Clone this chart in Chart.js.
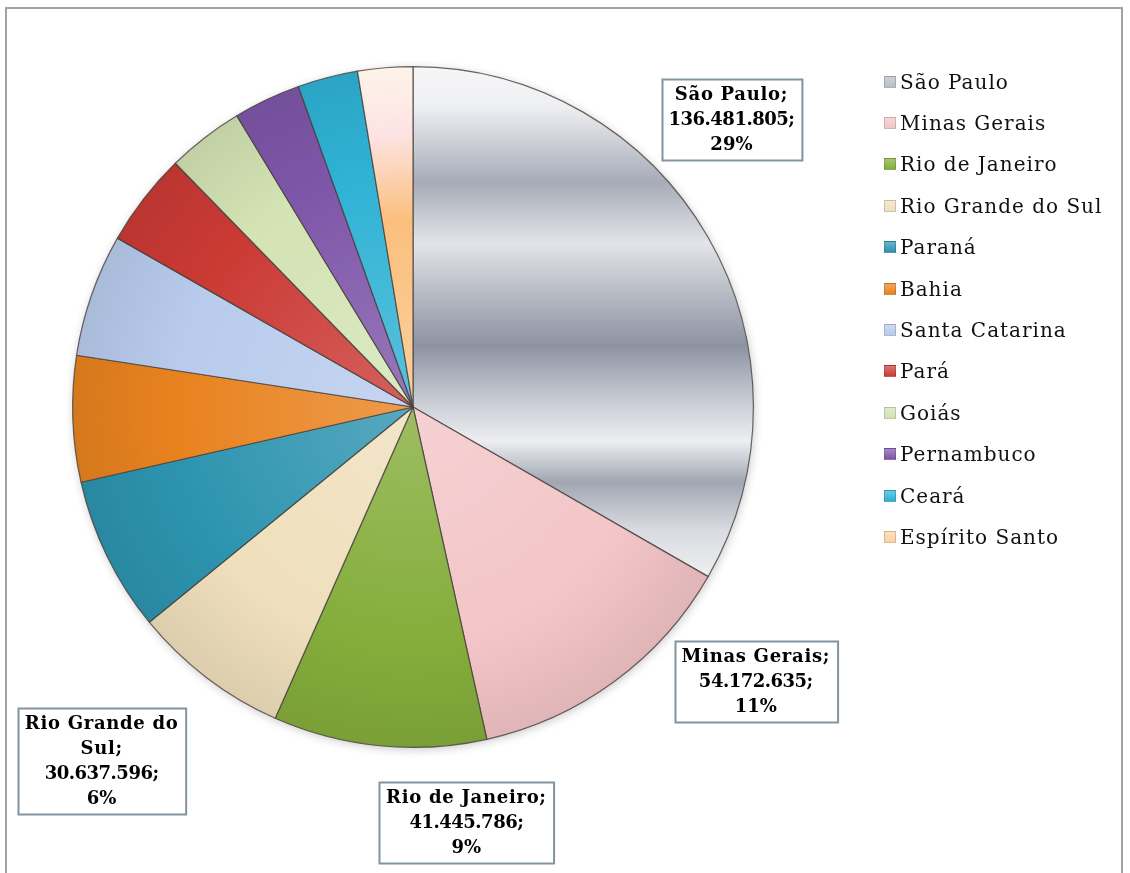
<!DOCTYPE html>
<html lang="pt-BR">
<head>
<meta charset="utf-8">
<title>Estados</title>
<script src="https://cdn.jsdelivr.net/npm/chart.js@4.4.1/dist/chart.umd.min.js"></script>
<style>
  html, body { margin: 0; padding: 0; background: #fff; }
  body { width: 1130px; height: 873px; position: relative; overflow: hidden; }
  .frame {
    position: absolute; left: 5px; top: 7px; width: 1118px; height: 920px;
    border: 2px solid #a3a3a3; box-sizing: border-box;
  }
  .chart-wrap { position: absolute; left: 0; top: 0; width: 1130px; height: 873px; }
  #legend {
    position: absolute; left: 884px; top: 61px; margin: 0; padding: 0; list-style: none;
    font-family: 'DejaVu Serif', serif; font-size: 20px; letter-spacing: 1px; color: #111;
  }
  #legend li { display: flex; align-items: center; height: 41.4px; white-space: nowrap; }
  #legend .swatch { width: 12px; height: 12px; margin-right: 4px; flex: none; box-sizing: border-box; border: 1px solid rgba(0,0,0,0.15); }
</style>
</head>
<body>
<div class="frame"></div>
<div class="chart-wrap"><canvas id="pieChart"></canvas></div>
<ul id="legend"></ul>
<script>
// data
const states = [
  'São Paulo', 'Minas Gerais', 'Rio de Janeiro', 'Rio Grande do Sul', 'Paraná', 'Bahia',
  'Santa Catarina', 'Pará', 'Goiás', 'Pernambuco', 'Ceará', 'Espírito Santo',
];
const values = [
  136481805, 54172635, 41445786, 30637596, 30100000, 24500000,
  23900000, 18200000, 14900000, 13100000, 11700000, 10700000,
];
// shares printed on the labelled slices
const shownShares = ['29%', '11%', '9%', '6%'];

const baseColors = [
  '#b9bdc7', '#f3c5c8', '#84ad3b', '#efdfbc', '#2d94af', '#e8821f',
  '#b8cbec', '#cb3a35', '#d3e3b3', '#7e56a9', '#2fb2d5', '#fbd2a4',
];

// banded silver look of the first slice (stop, colour)
const silverBands = [
  [0, '#f6f6f8'], [0.06, '#eeeff2'], [0.17, '#a6abb7'], [0.26, '#e2e4e8'],
  [0.34, '#b3b7c1'], [0.41, '#8d93a2'], [0.49, '#c8cbd3'], [0.55, '#eceef1'],
  [0.61, '#a1a6b2'], [0.68, '#d8dbe0'], [0.75, '#eeeff2'], [1, '#d0d3d9'],
];

// where each boxed label sits: angle shift from slice middle (deg), distance in radii, wrap width
const labelPlacement = [
  { shift: -12, dist: 1.26, wrap: 220 },
  { shift: -15, dist: 1.29, wrap: 220 },
  { shift: -13, dist: 1.23, wrap: 220 },
  { shift: 4, dist: 1.385, wrap: 170 },
];

function formatNumber(n) {
  return String(n).replace(/\B(?=(\d{3})+(?!\d))/g, '.');
}

function mix(hex, target, amount) {
  const n = parseInt(hex.slice(1), 16);
  const ch = [(n >> 16) & 255, (n >> 8) & 255, n & 255];
  const out = ch.map((c) => Math.round(c + (target - c) * amount));
  return `rgb(${out[0]}, ${out[1]}, ${out[2]})`;
}

function sliceFill(context) {
  const chart = context.chart;
  const area = chart.chartArea;
  const i = context.dataIndex;
  const base = baseColors[i];
  if (!area) return base;

  const g = chart.ctx;
  const cx = (area.left + area.right) / 2;
  const cy = (area.top + area.bottom) / 2;
  const r = Math.min(area.width, area.height) / 2;

  if (i === 0) {
    const lin = g.createLinearGradient(0, cy - r, 0, cy + r);
    silverBands.forEach(([stop, color]) => lin.addColorStop(stop, color));
    return lin;
  }

  const rad = g.createRadialGradient(cx, cy, 0, cx, cy, r);
  if (i === baseColors.length - 1) {
    rad.addColorStop(0, '#fbd0a0');
    rad.addColorStop(0.55, '#fbbf7c');
    rad.addColorStop(0.8, '#fde3e3');
    rad.addColorStop(1, '#fdf3ea');
    return rad;
  }
  rad.addColorStop(0, mix(base, 255, 0.2));
  rad.addColorStop(0.7, base);
  rad.addColorStop(1, mix(base, 0, 0.08));
  return rad;
}

function wrapText(ctx, text, maxWidth) {
  const words = text.split(' ');
  const lines = [];
  let line = '';
  words.forEach((word) => {
    const test = line ? `${line} ${word}` : word;
    if (line && ctx.measureText(test).width > maxWidth) {
      lines.push(line);
      line = word;
    } else {
      line = test;
    }
  });
  if (line) lines.push(line);
  return lines;
}

// soft shadow under the pie, like the office chart
const pieShadow = {
  id: 'pieShadow',
  beforeDatasetsDraw(chart) {
    const arc = chart.getDatasetMeta(0).data[0];
    if (!arc) return;
    const { x, y, outerRadius } = arc.getProps(['x', 'y', 'outerRadius'], true);
    const { ctx } = chart;
    ctx.save();
    ctx.shadowColor = 'rgba(0, 0, 0, 0.22)';
    ctx.shadowBlur = 10;
    ctx.shadowOffsetX = 1;
    ctx.shadowOffsetY = 2;
    ctx.fillStyle = '#ffffff';
    ctx.beginPath();
    ctx.arc(x, y, outerRadius, 0, Math.PI * 2);
    ctx.fill();
    ctx.restore();
  },
};

const boxLabels = {
  id: 'boxLabels',
  afterDatasetsDraw(chart) {
    const { ctx } = chart;
    const meta = chart.getDatasetMeta(0);
    const lineHeight = 25;
    const padX = 7;
    const padY = 3;

    ctx.save();
    ctx.font = 'bold 18px "DejaVu Serif"';
    ctx.textAlign = 'center';
    ctx.textBaseline = 'middle';

    labelPlacement.forEach((place, i) => {
      const arc = meta.data[i];
      const { x, y, startAngle, endAngle, outerRadius } = arc.getProps(
        ['x', 'y', 'startAngle', 'endAngle', 'outerRadius'], true,
      );
      const mid = (startAngle + endAngle) / 2 + (place.shift * Math.PI) / 180;
      const cx = x + Math.cos(mid) * outerRadius * place.dist;
      const cy = y + Math.sin(mid) * outerRadius * place.dist;

      ctx.letterSpacing = '0.7px';
      const nameLines = wrapText(ctx, `${chart.data.labels[i]};`, place.wrap)
        .map((text) => ({ text, spacing: '0.7px' }));
      const lines = [
        ...nameLines,
        { text: `${formatNumber(chart.data.datasets[0].data[i])};`, spacing: '-0.5px' },
        { text: shownShares[i], spacing: '0px' },
      ];
      const widths = lines.map((l) => {
        ctx.letterSpacing = l.spacing;
        return ctx.measureText(l.text).width;
      });
      const w = Math.max(...widths) + padX * 2;
      const h = lines.length * lineHeight + padY * 2;
      const left = Math.round(cx - w / 2) + 0.5;
      const top = Math.round(cy - h / 2) + 0.5;

      ctx.fillStyle = '#ffffff';
      ctx.fillRect(left, top, w, h);
      ctx.strokeStyle = '#8294a0';
      ctx.lineWidth = 2;
      ctx.strokeRect(left, top, w, h);

      ctx.fillStyle = '#000000';
      lines.forEach((l, k) => {
        ctx.letterSpacing = l.spacing;
        ctx.fillText(l.text, cx, top + padY + lineHeight * (k + 0.5));
      });
    });
    ctx.restore();
  },
};

const htmlLegend = {
  id: 'htmlLegend',
  afterUpdate(chart) {
    const list = document.getElementById('legend');
    list.innerHTML = '';
    chart.data.labels.forEach((label, i) => {
      const li = document.createElement('li');
      const swatch = document.createElement('span');
      swatch.className = 'swatch';
      swatch.style.background = `linear-gradient(${mix(baseColors[i], 255, 0.3)}, ${baseColors[i]})`;
      const text = document.createElement('span');
      text.textContent = label;
      li.appendChild(swatch);
      li.appendChild(text);
      list.appendChild(li);
    });
  },
};

new Chart(document.getElementById('pieChart'), {
  type: 'pie',
  data: {
    labels: states,
    datasets: [{
      data: values,
      backgroundColor: sliceFill,
      borderColor: 'rgba(70, 62, 58, 0.8)',
      borderWidth: 1.2,
    }],
  },
  options: {
    responsive: true,
    maintainAspectRatio: false,
    animation: false,
    layout: {
      padding: { left: 72, right: 376, top: 66, bottom: 125 },
    },
    plugins: {
      legend: { display: false },
      tooltip: { enabled: false },
    },
  },
  plugins: [pieShadow, boxLabels, htmlLegend],
});
</script>
</body>
</html>
